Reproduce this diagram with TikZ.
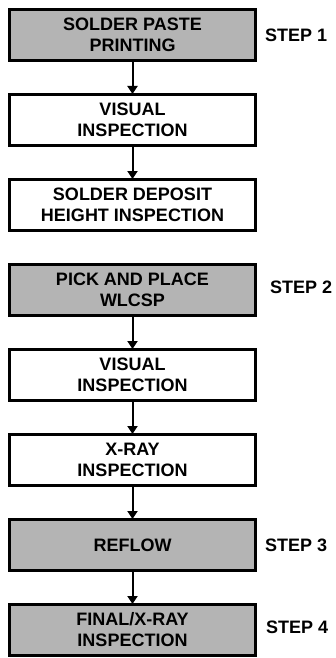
\documentclass[tikz,border=0pt]{standalone}
\usepackage{fontspec}
\setmainfont{Liberation Sans}
\usetikzlibrary{positioning,arrows.meta}

\definecolor{stepgrey}{RGB}{180,180,180}

\tikzset{
  flowbox/.style={draw=black, line width=3pt, minimum width=246pt, minimum height=51pt,
    inner sep=0pt, align=center, font=\fontsize{18}{21}\selectfont\bfseries},
  greybox/.style={flowbox, fill=stepgrey},
  whitebox/.style={flowbox, fill=white},
  steplabel/.style={anchor=west, inner sep=0pt, font=\fontsize{18}{21}\selectfont\bfseries},
  flowarrow/.style={line width=2pt, -{Triangle[length=8pt,width=10pt]}, shorten >=-1pt}
}

\begin{document}
\begin{tikzpicture}[x=1pt,y=1pt,node distance=31pt]

\useasboundingbox (0,0) rectangle (336,-658);

\node[greybox] (paste) at (132.5,-35) {SOLDER PASTE\\PRINTING};
\node[whitebox, below=of paste] (visual1) {VISUAL\\INSPECTION};
\node[whitebox, below=of visual1] (height) {SOLDER DEPOSIT\\HEIGHT INSPECTION};
\node[greybox, below=of height] (place) {PICK AND PLACE\\WLCSP};
\node[whitebox, below=of place] (visual2) {VISUAL\\INSPECTION};
\node[whitebox, below=of visual2] (xray) {X-RAY\\INSPECTION};
\node[greybox, below=of xray] (reflow) {REFLOW};
\node[greybox, below=of reflow] (final) {FINAL/X-RAY\\INSPECTION};

\node[steplabel] (step1) at ([xshift=8pt]paste.east) {STEP 1};
\node[steplabel] (step2) at ([xshift=13pt,yshift=3pt]place.east) {STEP 2};
\node[steplabel] (step3) at ([xshift=8pt]reflow.east) {STEP 3};
\node[steplabel] (step4) at ([xshift=9pt,yshift=3pt]final.east) {STEP 4};

\draw[flowarrow] (paste) -- (visual1);
\draw[flowarrow] (visual1) -- (height);
\draw[flowarrow] (place) -- (visual2);
\draw[flowarrow] (visual2) -- (xray);
\draw[flowarrow] (xray) -- (reflow);
\draw[flowarrow] (reflow) -- (final);

\end{tikzpicture}
\end{document}
